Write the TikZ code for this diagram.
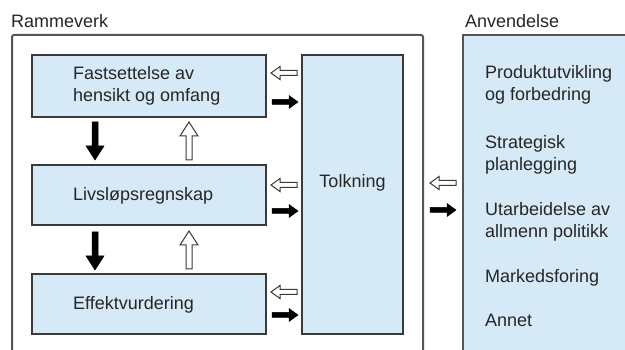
\documentclass[tikz,border=0pt]{standalone}
\usepackage{fontspec}
\setmainfont{Liberation Sans}
\definecolor{boxfill}{HTML}{D6E9F6}
\definecolor{boxline}{HTML}{3A3A3A}
\definecolor{frameline}{HTML}{555555}
\begin{document}
\begin{tikzpicture}[x=1pt,y=-1pt,
  txt/.style={font=\fontsize{18}{21.5}\selectfont, inner sep=0pt, align=left, anchor=west, text=black!85},
  stage/.style={draw=boxline, line width=1.6pt, fill=boxfill},
  blackarr/.style={fill=black, draw=black, line width=0.5pt},
  hollowarr/.style={fill=white, draw=boxline, line width=1pt},
  smallarr/.pic={\path[pic actions] (0,-2.5) -- (17,-2.5) -- (17,-6.5) -- (26,0) -- (17,6.5) -- (17,2.5) -- (0,2.5) -- cycle;},
  bigarr/.pic={\path[pic actions] (0,-3) -- (24,-3) -- (24,-9) -- (38,0) -- (24,9) -- (24,3) -- (0,3) -- cycle;}
]
\useasboundingbox (0,0) rectangle (625,350);
% outer frame (open at the bottom)
\draw[frameline, line width=2pt, rounded corners=2pt] (12,352) -- (12,35) -- (423,35) -- (423,352);
\node[txt] (ram) at (11,21) {Rammeverk};
% application panel
\fill[boxfill] (463,35) rectangle (627,352);
\draw[frameline, line width=2pt] (463,352) -- (463,35) -- (627,35);
\node[txt] (anv) at (465,21) {Anvendelse};
% stage boxes
\path[stage] (32,55) rectangle (266,117);
\node[txt] (b1) at (73,86) {Fastsettelse av\\hensikt og omfang};
\path[stage] (32,165) rectangle (266,225);
\node[txt] (b2) at (73,196) {Livsløpsregnskap};
\path[stage] (32,274) rectangle (266,334);
\node[txt] (b3) at (73,305) {Effektvurdering};
% interpretation box
\path[stage] (302,55) rectangle (403,334);
\node[txt, anchor=center] (tolk) at (352.5,183) {Tolkning};
% application items
\node[txt] (a1) at (485,85) {Produktutvikling\\og forbedring};
\node[txt] (a2) at (485,155) {Strategisk\\planlegging};
\node[txt] (a3) at (485,222) {Utarbeidelse av\\allmenn politikk};
\node[txt] (a4) at (485,278) {Markedsforing};
\node[txt] (a5) at (485,320) {Annet};
% vertical arrows
\pic[blackarr, rotate=-90] at (95,122) {bigarr};
\pic[hollowarr, rotate=90] at (189,160) {bigarr};
\pic[blackarr, rotate=-90] at (95,232) {bigarr};
\pic[hollowarr, rotate=90] at (189,269) {bigarr};
% horizontal arrows stage <-> interpretation
\pic[hollowarr, rotate=180] at (297,73) {smallarr};
\pic[blackarr] at (272,102) {smallarr};
\pic[hollowarr, rotate=180] at (297,185) {smallarr};
\pic[blackarr] at (272,211) {smallarr};
\pic[hollowarr, rotate=180] at (297,292) {smallarr};
\pic[blackarr] at (272,315) {smallarr};
% framework <-> application
\pic[hollowarr, rotate=180] at (456,183) {smallarr};
\pic[blackarr] at (430,210) {smallarr};
\end{tikzpicture}
\end{document}
